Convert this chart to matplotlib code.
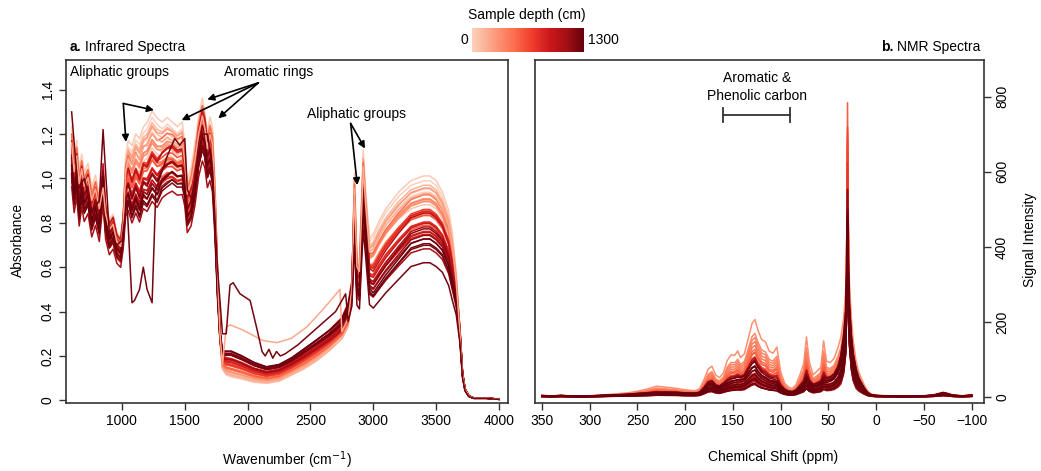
import numpy as np
import matplotlib
matplotlib.use("Agg")
import matplotlib.pyplot as plt
from matplotlib.colors import ListedColormap

plt.rcParams["font.family"] = ["Liberation Sans", "DejaVu Sans"]
plt.rcParams["font.size"] = 10

# ---- IR samples (depth in cm) and per-sample factors
DEPTHS = [0, 15, 35, 60, 90, 120, 150, 185, 220, 260, 300, 340, 380, 420, 460, 500, 540, 580,
          620, 660, 700, 740, 780, 820, 860, 900, 940, 980, 1020, 1060, 1100, 1140, 1180, 1220, 1260, 1300]
IR_SCALE = [1.02, 0.97, 1.05, 0.92, 1.0, 0.95, 1.03, 0.9, 0.98, 1.04, 0.93, 0.99, 1.01, 0.94, 0.96, 1.06, 0.91, 0.97,
            1.0, 0.95, 1.03, 0.92, 0.98, 1.05, 0.93, 1.0, 0.96, 1.08, 0.94, 1.02, 0.9, 0.99, 1.04, 0.95, 0.97, 1.01]

# ---- NMR samples
NMR_DEPTHS = [330, 360, 390, 420, 450, 480, 510, 540, 570, 600, 630, 660, 700, 740, 780, 820, 860, 900,
              930, 960, 990, 1020, 1050, 1080, 1100, 1130, 1160, 1190, 1210, 1230, 1250, 1265, 1280, 1290, 1295, 1300]
NMR_SCALE = [1.2, 1.0, 0.95, 0.9, 0.85, 0.8, 0.75, 0.78, 0.7, 0.72, 0.65, 0.68, 0.45, 0.7, 0.4, 0.55, 0.38, 0.8,
             0.45, 0.35, 0.9, 0.5, 0.3, 0.75, 0.42, 0.95, 0.6, 0.35, 0.85, 0.5, 1.0, 0.65, 0.4, 0.9, 0.55, 0.8]
NMR_PEAK = [350, 420, 460, 380, 450, 520, 300, 480, 620, 520, 440, 560, 360, 460, 380, 420, 400, 300,
            330, 400, 270, 350, 430, 290, 450, 260, 410, 360, 280, 380, 250, 320, 350, 260, 300, 270]

# ---- infrared spectra: shallow (light) and deep (dark) profiles
IR_WN = [600, 620, 640, 660, 680, 700, 730, 760, 790, 820, 850, 870, 900, 930, 960, 990, 1010, 1030,
         1050, 1080, 1110, 1140, 1170, 1200, 1240, 1280, 1320, 1360, 1400, 1440, 1480, 1500, 1520, 1550,
         1580, 1610, 1640, 1660, 1680, 1700, 1720, 1740, 1760, 1780, 1800, 1830, 1870, 1950, 2050, 2150,
         2250, 2350, 2450, 2550, 2650, 2750, 2800, 2830, 2850, 2870, 2890, 2920, 2940, 2970, 3000, 3050,
         3100, 3200, 3300, 3400, 3450, 3500, 3550, 3600, 3630, 3660, 3690, 3710, 3730, 3760, 3800, 3900, 4000]
IR_LIGHT = [1.18, 1.05, 1.12, 1.0, 1.06, 0.98, 1.02, 0.92, 0.97, 0.88, 0.95, 0.85, 0.78, 0.8, 0.72, 0.7, 0.8, 1.05,
            1.12, 1.1, 1.15, 1.13, 1.18, 1.2, 1.25, 1.22, 1.2, 1.22, 1.2, 1.18, 1.2, 1.1, 0.95, 1.0,
            1.1, 1.22, 1.3, 1.24, 1.15, 1.22, 1.18, 0.95, 0.6, 0.3, 0.15, 0.12, 0.11, 0.1, 0.085, 0.08,
            0.09, 0.12, 0.15, 0.19, 0.24, 0.3, 0.36, 0.5, 0.98, 0.62, 0.6, 1.08, 0.9, 0.7, 0.72, 0.78,
            0.83, 0.9, 0.95, 0.97, 0.97, 0.95, 0.9, 0.82, 0.72, 0.55, 0.3, 0.12, 0.05, 0.02, 0.01, 0.01, 0.005]
IR_DARK = [1.05, 0.92, 1.0, 0.85, 0.95, 0.88, 0.92, 0.8, 0.86, 0.78, 1.0, 0.8, 0.72, 0.75, 0.68, 0.66, 0.75, 0.9,
           0.92, 0.85, 0.9, 0.85, 0.92, 0.9, 0.95, 0.92, 0.98, 1.0, 1.02, 1.0, 1.0, 0.95, 0.82, 0.85,
           0.95, 1.1, 1.18, 1.15, 1.05, 1.08, 1.02, 0.8, 0.5, 0.3, 0.22, 0.22, 0.22, 0.2, 0.17, 0.15,
           0.16, 0.19, 0.23, 0.27, 0.31, 0.36, 0.42, 0.5, 0.82, 0.5, 0.48, 0.9, 0.75, 0.5, 0.48, 0.52,
           0.56, 0.63, 0.7, 0.72, 0.72, 0.7, 0.67, 0.6, 0.52, 0.45, 0.3, 0.12, 0.05, 0.02, 0.01, 0.01, 0.005]

# odd deep sample (dips near 1100-1240 and shoulder near 1900)
ODD_DEPTH = 1250
ODD_WN = [600, 650, 700, 760, 820, 850, 900, 960, 1000, 1040, 1080, 1100, 1140, 1170, 1200, 1240, 1270,
          1300, 1360, 1420, 1460, 1500, 1520, 1560, 1600, 1640, 1680, 1720, 1760, 1800, 1830, 1860, 1885,
          1940, 2020, 2075, 2115, 2140, 2170, 2200, 2230, 2260, 2300, 2400, 2500, 2600, 2700, 2780]
ODD_ABS = [1.3, 0.95, 1.0, 0.85, 0.9, 1.22, 0.75, 0.7, 0.72, 0.9, 0.44, 0.45, 0.5, 0.6, 0.5, 0.44, 0.95,
           1.0, 1.1, 1.18, 1.15, 1.18, 0.95, 0.9, 1.05, 1.2, 1.2, 1.05, 0.6, 0.3, 0.3, 0.52, 0.53,
           0.48, 0.45, 0.32, 0.22, 0.2, 0.23, 0.19, 0.22, 0.2, 0.21, 0.25, 0.3, 0.35, 0.4, 0.48]
# pale sample that stays high between 1850 and 2750
PALE_DEPTH = 200
PALE_WN = [1830, 1860, 1950, 2020, 2120, 2233, 2350, 2470, 2600, 2735]
PALE_ABS = [0.33, 0.34, 0.32, 0.30, 0.27, 0.26, 0.28, 0.33, 0.41, 0.50]

# ---- NMR spectra
NMR_PPM = [350, 340, 330, 320, 310, 300, 290, 280, 270, 260, 250, 240, 230, 220, 210, 200, 190, 185, 180,
           176, 172, 168, 164, 160, 156, 152, 148, 145, 142, 138, 134, 130, 127, 124, 120, 116, 112, 108,
           104, 100, 96, 92, 88, 84, 80, 76, 73, 70, 66, 62, 58, 55, 52, 48, 44, 40, 37, 34, 32, 31, 30,
           29, 28, 26, 24, 21, 18, 15, 12, 9, 6, 3, 0, -10, -20, -30, -40, -50, -60, -70, -75, -80, -90, -100]
NMR_LIGHT = [3, 2, 4, 2, 1, 3, 4, 6, 8, 10, 14, 20, 28, 25, 22, 18, 15, 20, 45,
             70, 78, 55, 48, 60, 95, 110, 108, 120, 100, 110, 150, 190, 200, 175, 150, 145, 120, 115,
             135, 65, 35, 25, 20, 30, 55, 85, 160, 90, 55, 65, 75, 150, 90, 85, 95, 120, 140, 170, 200, 220, 230,
             220, 200, 160, 120, 80, 55, 40, 25, 15, 8, 5, 4, 3, 2, 3, 2, 3, 5, 10, 8, 4, 3, 4]
NMR_DARK = [4, 3, 4, 3, 2, 3, 4, 5, 6, 7, 9, 10, 12, 12, 12, 10, 10, 12, 25,
            38, 40, 30, 28, 35, 40, 45, 48, 50, 50, 55, 70, 85, 90, 75, 62, 55, 48, 45,
            40, 28, 20, 15, 14, 18, 28, 38, 55, 40, 32, 35, 40, 50, 48, 52, 60, 80, 110, 160, 200, 230, 240,
            230, 200, 150, 110, 75, 50, 35, 22, 12, 7, 5, 4, 3, 3, 2, 3, 3, 5, 12, 9, 5, 3, 5]
# sharp aliphatic peak near 30 ppm, as a fraction of the peak height
NMR_PEAK_SHAPE = [0] * 57 + [0.03, 0.12, 0.35, 1.0, 0.4, 0.18, 0.06, 0.02] + [0] * 19

DEPTH_MAX = 1300
cmap = ListedColormap(plt.cm.Reds(np.linspace(0.18, 1.0, 256)))


def ir_spectrum(depth, scale):
    t = depth / DEPTH_MAX
    return scale * ((1 - t) * np.array(IR_LIGHT) + t * np.array(IR_DARK))


def splice(wn, ab, new_wn, new_ab):
    """Replace the part of a spectrum covered by new_wn with new points."""
    wn, ab = np.array(wn), np.array(ab)
    keep = (wn < min(new_wn)) | (wn > max(new_wn))
    x = np.concatenate([wn[keep], new_wn])
    y = np.concatenate([ab[keep], new_ab])
    order = np.argsort(x)
    return x[order], y[order]


fig = plt.figure(figsize=(10.41, 4.71), dpi=100)
W, H = 1041, 471
ax1 = fig.add_axes([66 / W, 1 - 403 / H, 442 / W, 343 / H])
ax2 = fig.add_axes([535 / W, 1 - 403 / H, 449 / W, 343 / H])
cax = fig.add_axes([472 / W, 1 - 52 / H, 112 / W, 24 / H])

# infrared
for d, s in zip(DEPTHS, IR_SCALE):
    ax1.plot(IR_WN, ir_spectrum(d, s), color=cmap(d / DEPTH_MAX), lw=1.1)
x, y = splice(IR_WN, ir_spectrum(PALE_DEPTH, 1.0), PALE_WN, PALE_ABS)
ax1.plot(x, y, color=cmap(PALE_DEPTH / DEPTH_MAX), lw=1.1)
x, y = splice(IR_WN, ir_spectrum(ODD_DEPTH, 0.85), ODD_WN, ODD_ABS)
ax1.plot(x, y, color=cmap(ODD_DEPTH / DEPTH_MAX), lw=1.1)

ax1.set_xlim(555, 4072)
ax1.set_ylim(-0.012, 1.534)
ax1.set_xticks([1000, 1500, 2000, 2500, 3000, 3500, 4000])
ax1.set_yticks([0, 0.2, 0.4, 0.6, 0.8, 1.0, 1.2, 1.4])
ax1.set_yticklabels(["0", "0.2", "0.4", "0.6", "0.8", "1.0", "1.2", "1.4"])

arrow = dict(arrowstyle="-|>", color="black", lw=1.2, mutation_scale=10, shrinkA=0, shrinkB=0)
ax1.text(982, 1.478, "Aliphatic groups", ha="center", va="center")
for end in [(1032, 1.165), (1255, 1.308)]:
    ax1.annotate("", xy=end, xytext=(1011, 1.338), arrowprops=arrow)
ax1.text(2170, 1.478, "Aromatic rings", ha="center", va="center")
for end in [(1679, 1.356), (1475, 1.263), (1767, 1.271)]:
    ax1.annotate("", xy=end, xytext=(2085, 1.431), arrowprops=arrow)
ax1.text(2868, 1.29, "Aliphatic groups", ha="center", va="center")
for end in [(2873, 0.97), (2934, 1.135)]:
    ax1.annotate("", xy=end, xytext=(2820, 1.248), arrowprops=arrow)

# NMR
for d, s, p in zip(NMR_DEPTHS, NMR_SCALE, NMR_PEAK):
    t = d / DEPTH_MAX
    base = s * ((1 - t) * np.array(NMR_LIGHT) + t * np.array(NMR_DARK))
    ax2.plot(NMR_PPM, base + p * np.array(NMR_PEAK_SHAPE), color=cmap(t), lw=1.1)

ax2.set_xlim(357.3, -112.9)
ax2.set_ylim(-16, 898)
ax2.set_xticks([350, 300, 250, 200, 150, 100, 50, 0, -50, -100])
ax2.set_yticks([0, 200, 400, 600, 800])
ax2.yaxis.tick_right()
ax2.text(125, 826, "Aromatic &\nPhenolic carbon", ha="center", va="center", linespacing=1.3)
ax2.plot([160, 90], [751, 751], color="#333333", lw=1.3)
for xe in (160, 90):
    ax2.plot([xe, xe], [733, 769], color="#333333", lw=1.3)

for ax in (ax1, ax2):
    for sp in ax.spines.values():
        sp.set_color("#333333")
        sp.set_linewidth(1.2)
    ax.tick_params(length=5, width=1, color="#333333", labelsize=10, pad=3)
    ax.tick_params(axis="y", labelrotation=90)
    for lab in ax.get_yticklabels():
        lab.set_va("center")

# colour bar for depth
cax.imshow(np.linspace(0, 1, 256)[None, :], aspect="auto", cmap=cmap)
cax.axis("off")
fig.text(527 / W, 1 - 15 / H, "Sample depth (cm)", ha="center", va="center")
fig.text(468 / W, 1 - 40 / H, "0", ha="right", va="center")
fig.text(588 / W, 1 - 40 / H, "1300", ha="left", va="center")

# panel titles and axis labels
fig.text(70 / W, 1 - 47 / H, "a.", weight="bold", ha="left", va="center")
fig.text(85 / W, 1 - 47 / H, "Infrared Spectra", ha="left", va="center")
fig.text(881 / W, 1 - 47 / H, "b.", weight="bold", ha="left", va="center")
fig.text(897 / W, 1 - 47 / H, "NMR Spectra", ha="left", va="center")
fig.text(18 / W, 1 - 240 / H, "Absorbance", rotation=90, ha="center", va="center")
fig.text(1030 / W, 1 - 240 / H, "Signal Intensity", rotation=90, ha="center", va="center")
fig.text(287 / W, 1 - 460 / H, "Wavenumber (cm$^{-1}$)", ha="center", va="center")
fig.text(773 / W, 1 - 457 / H, "Chemical Shift (ppm)", ha="center", va="center")

fig.savefig("out.png", dpi=100)
